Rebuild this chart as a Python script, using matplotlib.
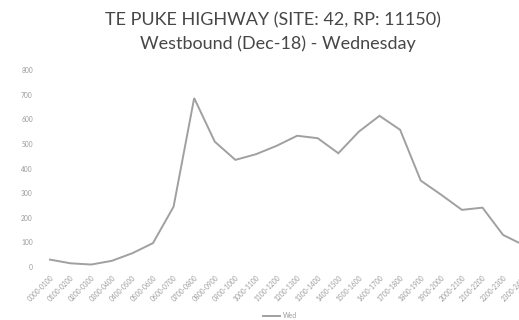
import matplotlib
matplotlib.use("Agg")
import matplotlib.pyplot as plt

categories = ["0000-0100", "0100-0200", "0200-0300", "0300-0400", "0400-0500", "0500-0600",
              "0600-0700", "0700-0800", "0800-0900", "0900-1000", "1000-1100", "1100-1200",
              "1200-1300", "1300-1400", "1400-1500", "1500-1600", "1600-1700", "1700-1800",
              "1800-1900", "1900-2000", "2000-2100", "2100-2200", "2200-2300", "2300-2400"]
wed = [30, 15, 10, 25, 56, 97, 245, 686, 509, 435, 458, 492,
       533, 523, 462, 550, 614, 557, 351, 293, 232, 241, 130, 89]
yticks = [0, 100, 200, 300, 400, 500, 600, 700, 800]
series_name = "Wed"

W, H = 519, 320
fig = plt.figure(figsize=(W / 100, H / 100), dpi=100)
fig.patch.set_facecolor("white")

left_px, right_px, top_px, bot_px = 39.7, 534.0, 70.0, 267.0
ax = fig.add_axes([left_px / W, 1 - bot_px / H, (right_px - left_px) / W, (bot_px - top_px) / H])
ax.set_facecolor("white")

x = list(range(len(categories)))
ax.plot(x, wed, color="#a0a0a0", lw=1.4, label=series_name, solid_joinstyle="miter")

ax.set_xlim(-0.5, len(categories) - 0.5)
ax.set_ylim(0, 800)
ax.set_yticks(yticks)
ax.set_yticklabels([str(v) for v in yticks], fontsize=4.8, color="#9a9a9a", family="Lato")
ax.set_xticks(x)
ax.set_xticklabels(categories, rotation=45, ha="right", rotation_mode="anchor",
                   fontsize=4.8, color="#9a9a9a", family="Lato")
ax.tick_params(axis="both", length=0, pad=5)
for s in ax.spines.values():
    s.set_visible(False)

fig.text(273 / W, 1 - 20 / H, "TE PUKE HIGHWAY (SITE: 42, RP: 11150)", ha="center", va="center",
         fontsize=13, color="#474747", family="Lato")
fig.text(278 / W, 1 - 44 / H, "Westbound (Dec-18) - Wednesday", ha="center", va="center",
         fontsize=13, color="#474747", family="Lato")

leg = fig.legend(loc="center", bbox_to_anchor=(280 / W, 1 - 316 / H), frameon=False,
                 prop={"family": "Lato", "size": 4.8}, handlelength=2.5, handletextpad=0.4)
for t in leg.get_texts():
    t.set_color("#9a9a9a")

fig.savefig("out.png", dpi=100, facecolor="white")
